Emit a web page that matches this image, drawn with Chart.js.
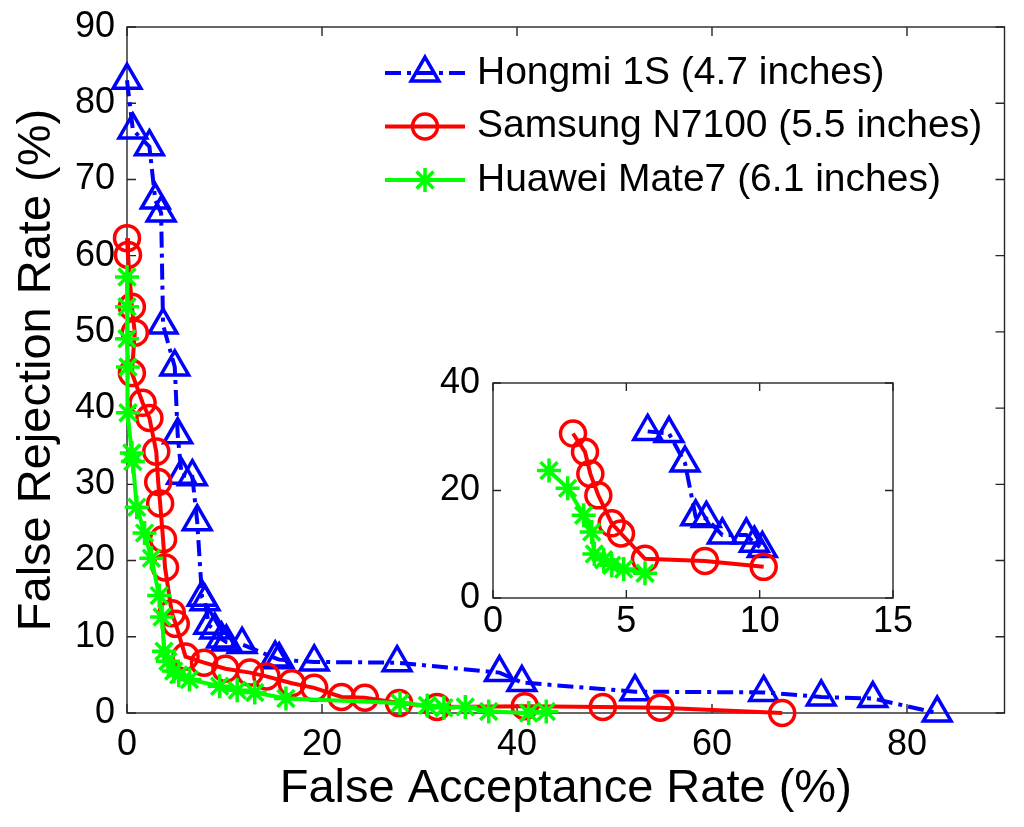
<!DOCTYPE html>
<html lang="en">
<head>
<meta charset="UTF-8">
<title>FAR / FRR of three phones</title>
<script src="https://cdn.jsdelivr.net/npm/chart.js"></script>
<style>
    body { margin: 0; background: #fff; overflow: hidden; }
    #wrap { position: relative; width: 1024px; height: 827px; }
    #mainChart { position: absolute; left: 0; top: 0; }
    #insetChart { position: absolute; left: 430px; top: 360px; }
</style>
</head>
<body>
<div id="wrap">
    <canvas id="mainChart" width="1024" height="827"></canvas>
    <canvas id="insetChart" width="490" height="300"></canvas>
</div>
<script>
// series labels
var seriesNames = ['Hongmi 1S (4.7 inches)', 'Samsung N7100 (5.5 inches)', 'Huawei Mate7 (6.1 inches)'];

// main plot: false acceptance rate (x) / false rejection rate (y), %
var hongmiFar = [0, 0.6, 2.3, 2.9, 3.5, 3.7, 4.9, 5.2, 5.6, 6.7, 7.2, 7.7, 8.0, 8.4, 9.0, 9.7, 10.2, 11.8, 15.2, 15.6, 19.2, 27.7, 38.2, 40.5, 52.1, 65.3, 71.2, 76.5, 83.1];
var hongmiFrr = [83.0, 76.5, 74.3, 67.3, 65.6, 50.9, 45.4, 36.5, 31.2, 31.0, 25.1, 15.2, 14.6, 11.5, 10.9, 9.7, 9.3, 9.0, 7.2, 7.0, 6.7, 6.6, 5.3, 4.0, 2.8, 2.7, 2.1, 1.9, 0];

var samsungFar = [0, 0.1, 0.5, 0.8, 0.5, 1.6, 2.3, 3.0, 3.2, 3.4, 3.7, 3.9, 4.6, 5.0, 6.0, 7.9, 10.1, 12.6, 14.3, 16.9, 19.2, 22.0, 24.4, 27.9, 31.8, 40.8, 48.8, 54.7, 67.2];
var samsungFrr = [62.3, 60.1, 53.3, 49.9, 44.6, 40.7, 38.7, 34.3, 30.3, 27.5, 22.8, 19.1, 13.1, 11.7, 7.4, 6.6, 5.8, 5.3, 4.8, 3.9, 3.3, 2.1, 2.0, 1.3, 0.8, 0.9, 0.8, 0.7, 0];

var huaweiFar = [0, 0, 0, 0.1, 0.1, 0.5, 0.6, 1.0, 1.8, 2.5, 3.3, 3.6, 3.8, 4.2, 4.8, 5.3, 6.4, 9.5, 11.3, 13.1, 16.3, 28.0, 30.8, 32.5, 34.7, 37.1, 41.2, 43.0];
var huaweiFrr = [57.2, 53.3, 49.1, 45.4, 39.4, 34.1, 33.0, 27.0, 23.6, 20.3, 15.4, 12.6, 8.1, 6.8, 5.5, 5.0, 4.4, 3.5, 3.0, 2.7, 1.9, 1.3, 1.0, 0.7, 0.8, 0.2, 0, 0.2];

// inset plot
var insetHongmiFar = [5.8, 6.6, 7.2, 7.6, 8.0, 8.6, 9.5, 9.8, 10.1];
var insetHongmiFrr = [31.0, 30.6, 25.1, 15.1, 14.8, 11.7, 11.7, 10.2, 9.2];
var insetSamsungFar = [3.0, 3.45, 3.65, 3.95, 4.45, 4.8, 5.7, 7.95, 10.15];
var insetSamsungFrr = [30.6, 27.2, 23.1, 19.1, 13.9, 12.0, 7.3, 6.9, 5.8];
var insetHuaweiFar = [2.1, 2.8, 3.4, 3.7, 3.8, 4.15, 4.45, 4.9, 5.7];
var insetHuaweiFrr = [23.7, 20.4, 15.4, 12.3, 8.2, 7.1, 6.1, 5.4, 4.6];

// tick values
var mainXTicks = [0, 20, 40, 60, 80];
var mainYTicks = [0, 10, 20, 30, 40, 50, 60, 70, 80, 90];
var insetXTicks = [0, 5, 10, 15];
var insetYTicks = [0, 20, 40];

var fontFamily = '"Liberation Sans", Arial, sans-serif';

function toPoints(xs, ys) {
    return xs.map(function (x, i) { return { x: x, y: ys[i] }; });
}

// the three line styles (blue dash-dot triangles, red circles, green stars)
function makeDatasets(hx, hy, sx, sy, gx, gy) {
    return [{
        label: seriesNames[0],
        data: toPoints(hx, hy),
        borderColor: '#0000ff',
        borderWidth: 4,
        borderDash: [16, 6, 4, 6],
        pointStyle: 'triangle',
        pointRadius: 16,
        pointBorderColor: '#0000ff',
        pointBorderWidth: 3.5,
        pointBackgroundColor: 'rgba(0,0,0,0)',
        order: 3
    }, {
        label: seriesNames[1],
        data: toPoints(sx, sy),
        borderColor: '#ff0000',
        borderWidth: 4,
        pointStyle: 'circle',
        pointRadius: 12.5,
        pointBorderColor: '#ff0000',
        pointBorderWidth: 3.5,
        pointBackgroundColor: 'rgba(0,0,0,0)',
        order: 2
    }, {
        label: seriesNames[2],
        data: toPoints(gx, gy),
        borderColor: '#00ff00',
        borderWidth: 4,
        pointStyle: 'star',
        pointRadius: 12,
        pointBorderColor: '#00ff00',
        pointBorderWidth: 3.5,
        pointBackgroundColor: 'rgba(0,0,0,0)',
        order: 1
    }].map(function (ds) {
        ds.showLine = true;
        ds.tension = 0;
        ds.fill = false;
        ds.clip = false;
        ds.pointHoverRadius = ds.pointRadius;
        return ds;
    });
}

// white plot background + box with inward tick marks on all four sides
var framePlugin = {
    id: 'frame',
    beforeDatasetsDraw: function (chart, args, opts) {
        var ctx = chart.ctx, a = chart.chartArea;
        var xs = chart.scales.x, ys = chart.scales.y;
        var len = opts.tickLength;
        ctx.save();
        ctx.strokeStyle = '#262626';
        ctx.lineWidth = 1.4;
        ctx.strokeRect(a.left, a.top, a.right - a.left, a.bottom - a.top);
        ctx.beginPath();
        xs.ticks.forEach(function (t) {
            var px = xs.getPixelForValue(t.value);
            ctx.moveTo(px, a.bottom); ctx.lineTo(px, a.bottom - len);
            ctx.moveTo(px, a.top); ctx.lineTo(px, a.top + len);
        });
        ys.ticks.forEach(function (t) {
            var py = ys.getPixelForValue(t.value);
            ctx.moveTo(a.left, py); ctx.lineTo(a.left + len, py);
            ctx.moveTo(a.right, py); ctx.lineTo(a.right - len, py);
        });
        ctx.stroke();
        ctx.restore();
    },
    beforeDraw: function (chart) {
        var ctx = chart.ctx, a = chart.chartArea;
        ctx.save();
        ctx.fillStyle = '#ffffff';
        ctx.fillRect(a.left, a.top, a.right - a.left, a.bottom - a.top);
        ctx.restore();
    }
};

// matlab-like legend: line sample with marker in the middle, then the label
var lineLegendPlugin = {
    id: 'lineLegend',
    afterDraw: function (chart, args, o) {
        if (!o.show) return;
        var ctx = chart.ctx;
        chart.data.datasets.forEach(function (ds, i) {
            var y = o.top + i * o.rowGap;
            ctx.save();
            ctx.strokeStyle = ds.borderColor;
            ctx.lineWidth = ds.borderWidth;
            ctx.setLineDash(ds.borderDash || []);
            ctx.beginPath();
            ctx.moveTo(o.x1, y);
            ctx.lineTo(o.x2, y);
            ctx.stroke();
            ctx.setLineDash([]);
            ctx.strokeStyle = ds.pointBorderColor;
            ctx.fillStyle = 'rgba(0,0,0,0)';
            ctx.lineWidth = ds.pointBorderWidth;
            Chart.helpers.drawPoint(ctx, {
                pointStyle: ds.pointStyle,
                radius: ds.pointRadius,
                rotation: 0,
                borderWidth: ds.pointBorderWidth
            }, (o.x1 + o.x2) / 2, y);
            ctx.fillStyle = '#000';
            ctx.font = o.fontSize + 'px ' + fontFamily;
            ctx.textAlign = 'left';
            ctx.textBaseline = 'middle';
            ctx.fillText(ds.label, o.textX, y);
            ctx.restore();
        });
    }
};

function axis(min, max, tickList, size, pad, title) {
    var s = {
        type: 'linear',
        min: min,
        max: max,
        afterBuildTicks: function (scale) {
            scale.ticks = tickList.map(function (v) { return { value: v }; });
        },
        grid: { display: false, drawTicks: false, tickLength: 0 },
        border: { display: false },
        ticks: {
            color: '#000',
            font: { family: fontFamily, size: 36 },
            padding: pad,
            maxRotation: 0,
            autoSkip: false
        }
    };
    if (title) s.title = title;
    s.afterFit = function (scale) {
        if (scale.isHorizontal()) {
            scale.height = size;
            scale.paddingLeft = 0;
            scale.paddingRight = 0;
        } else {
            scale.width = size;
            scale.paddingTop = 0;
            scale.paddingBottom = 0;
        }
    };
    return s;
}

var mainChart = new Chart(document.getElementById('mainChart').getContext('2d'), {
    type: 'scatter',
    data: { datasets: makeDatasets(hongmiFar, hongmiFrr, samsungFar, samsungFrr, huaweiFar, huaweiFrr) },
    options: {
        responsive: false,
        animation: false,
        events: [],
        layout: { padding: { top: 27, right: 11, left: 0, bottom: 0 } },
        plugins: {
            legend: { display: false },
            tooltip: { enabled: false },
            frame: { tickLength: 9 },
            lineLegend: { show: true, x1: 385, x2: 465, textX: 477, top: 73, rowGap: 53.5, fontSize: 39 }
        },
        scales: {
            x: axis(0, 90, mainXTicks, 114, 10, {
                display: true,
                text: 'False Acceptance Rate (%)',
                color: '#000',
                font: { family: fontFamily, size: 47 },
                padding: { top: 0, bottom: 10 }
            }),
            y: axis(0, 90, mainYTicks, 127, 12, {
                display: true,
                text: 'False Rejection Rate (%)',
                color: '#000',
                font: { family: fontFamily, size: 47 },
                padding: { top: 9, bottom: 0 }
            })
        }
    },
    plugins: [framePlugin, lineLegendPlugin]
});

var insetChart = new Chart(document.getElementById('insetChart').getContext('2d'), {
    type: 'scatter',
    data: { datasets: makeDatasets(insetHongmiFar, insetHongmiFrr, insetSamsungFar, insetSamsungFrr, insetHuaweiFar, insetHuaweiFrr) },
    options: {
        responsive: false,
        animation: false,
        events: [],
        layout: { padding: { top: 23, right: 27, left: 0, bottom: 0 } },
        plugins: {
            legend: { display: false },
            tooltip: { enabled: false },
            frame: { tickLength: 8 },
            lineLegend: { show: false }
        },
        scales: {
            x: axis(0, 15, insetXTicks, 62, 2),
            y: axis(0, 40, insetYTicks, 63, 13)
        }
    },
    plugins: [framePlugin, lineLegendPlugin]
});
</script>
</body>
</html>
